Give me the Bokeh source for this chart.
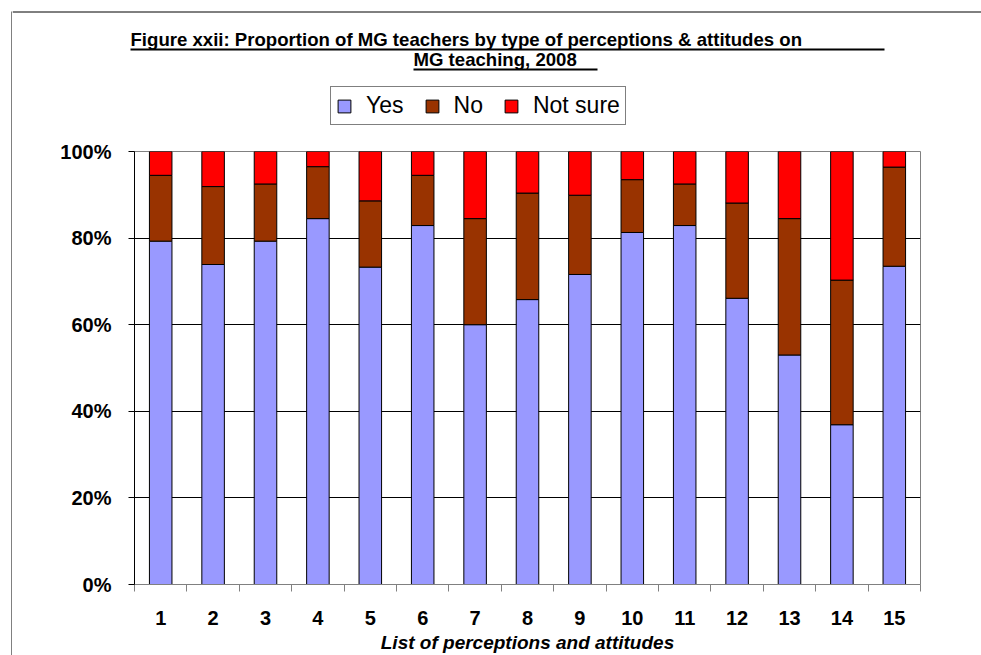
from bokeh.plotting import figure
from bokeh.layouts import row, column
from bokeh.models import (Range1d, FixedTicker, LinearAxis, Grid, Legend, LegendItem,
                          ColumnDataSource)
from bokeh.core.properties import value
from bokeh.embed import file_html
from bokeh.resources import INLINE

# ---- data ----
categories = [str(i) for i in range(1, 16)]
yes = [79.3, 73.9, 79.3, 84.5, 73.3, 82.9, 60.0, 65.8, 71.6, 81.3, 82.9, 66.1, 53.0, 36.9, 73.5]
no = [15.2, 18.0, 13.2, 12.0, 15.3, 11.6, 24.5, 24.6, 18.3, 12.2, 9.6, 22.0, 31.5, 33.4, 22.9]
not_sure = [5.5, 8.1, 7.5, 3.5, 11.4, 5.5, 15.5, 9.6, 10.1, 6.5, 7.5, 11.9, 15.5, 29.7, 3.6]
series_names = ["Yes", "No", "Not sure"]
series_colors = ["#9999FF", "#993300", "#FF0000"]
y_ticks = [0, 20, 40, 60, 80, 100]
y_tick_labels = ["0%", "20%", "40%", "60%", "80%", "100%"]
title_line1 = "Figure xxii: Proportion of MG teachers by type of perceptions & attitudes on"
title_line2 = "MG teaching, 2008"
x_title = "List of perceptions and attitudes"

FONT = "Liberation Sans"
W, H = 981, 655
STRIP = 12        # left strip holding the outer frame line
TOP = 131         # height of the title/legend band
PLOT_TOP = 151    # canvas y of the 100% line

xs = list(range(1, len(categories) + 1))
src = ColumnDataSource(dict(x=xs, yes=yes, no=no, not_sure=not_sure))

# ---------------- left strip: outer frame left edge ----------------
s = figure(width=STRIP, height=H, x_range=Range1d(0, STRIP), y_range=Range1d(H, 0),
           x_axis_type=None, y_axis_type=None, toolbar_location=None, output_backend="svg",
           min_border=0)
s.frame_align = False
s.outline_line_color = None
s.grid.visible = False
s.segment(x0=[11.5], y0=[11], x1=[11.5], y1=[H], line_color="black", line_width=1)

# ---------------- top band: title + legend ----------------
t = figure(width=W - STRIP, height=TOP, x_range=Range1d(STRIP, W), y_range=Range1d(TOP, 0),
           x_axis_type=None, y_axis_type=None, toolbar_location=None, output_backend="svg",
           min_border=0)
t.frame_align = False
t.outline_line_color = None
t.grid.visible = False
# outer frame top edge
t.segment(x0=[STRIP], y0=[11.5], x1=[W], y1=[11.5], line_color="black", line_width=1)
# title lines, underlined
t.text(x=[130], y=[39], text=[title_line1], text_font=value(FONT), text_font_style="bold",
       text_font_size="18.6px", text_baseline="middle", text_align="left", text_color="black")
t.text(x=[413], y=[59], text=[title_line2], text_font=value(FONT), text_font_style="bold",
       text_font_size="18.6px", text_baseline="middle", text_align="left", text_color="black")
t.segment(x0=[130, 413], y0=[49, 69], x1=[884, 597], y1=[49, 69], line_color="black", line_width=2)

# legend keys: hidden copies of the stacked bars, used only for the legend swatches
swatches = t.vbar_stack(["yes", "no", "not_sure"], x="x", width=0.43, source=src,
                        fill_color=series_colors, line_color="black", line_width=1,
                        visible=False)
legend = Legend(items=[LegendItem(label=n, renderers=[r]) for n, r in zip(series_names, swatches)],
                orientation="horizontal", location=(330 - STRIP, TOP - 125))
legend.label_text_font = FONT
legend.label_text_font_size = "23px"
legend.label_text_color = "black"
legend.glyph_width = 16
legend.glyph_height = 16
legend.label_standoff = 14
legend.spacing = 20
legend.padding = 5
legend.margin = 0
legend.border_line_color = "black"
legend.border_line_width = 1
legend.background_fill_color = "white"
legend.background_fill_alpha = 1
t.add_layout(legend)

# ---------------- main chart ----------------
p = figure(width=W - STRIP, height=H - TOP, x_range=Range1d(0.5, len(categories) + 0.5),
           y_range=Range1d(0, 100), x_axis_type=None, y_axis_type=None,
           toolbar_location=None, output_backend="svg",
           min_border_left=134 - STRIP, min_border_right=61, min_border_top=PLOT_TOP - TOP,
           min_border_bottom=70)
p.frame_align = False
p.outline_line_color = "#808080"
p.outline_line_width = 1
p.background_fill_color = "white"
p.border_fill_color = "white"

p.add_layout(Grid(dimension=1, ticker=FixedTicker(ticks=y_ticks), grid_line_color="black",
                  grid_line_width=1))

p.vbar_stack(["yes", "no", "not_sure"], x="x", width=0.43, source=src,
             fill_color=series_colors, line_color="black", line_width=1)

yaxis = LinearAxis(ticker=FixedTicker(ticks=y_ticks),
                   major_label_overrides={t_: l for t_, l in zip(y_ticks, y_tick_labels)})
yaxis.axis_line_color = "black"
yaxis.major_tick_line_color = "black"
yaxis.major_tick_out = 6
yaxis.major_tick_in = 0
yaxis.minor_tick_line_color = None
yaxis.major_label_standoff = 17
yaxis.major_label_text_font = FONT
yaxis.major_label_text_font_style = "bold"
yaxis.major_label_text_font_size = "20px"
yaxis.major_label_text_color = "black"
p.add_layout(yaxis, "left")

minor = [x - 0.5 for x in xs] + [xs[-1] + 0.5]
xaxis = LinearAxis(ticker=FixedTicker(ticks=xs, minor_ticks=minor),
                   major_label_overrides={x: c for x, c in zip(xs, categories)})
xaxis.axis_line_color = "#808080"
xaxis.major_tick_line_color = None
xaxis.major_tick_out = 0
xaxis.major_tick_in = 0
xaxis.minor_tick_line_color = "#808080"
xaxis.minor_tick_out = 7
xaxis.minor_tick_in = 0
xaxis.major_label_standoff = 19
xaxis.major_label_text_font = FONT
xaxis.major_label_text_font_style = "bold"
xaxis.major_label_text_font_size = "20px"
xaxis.major_label_text_color = "black"
xaxis.axis_label = x_title
xaxis.axis_label_standoff = 4
xaxis.axis_label_text_font = FONT
xaxis.axis_label_text_font_style = "bold italic"
xaxis.axis_label_text_font_size = "19px"
xaxis.axis_label_text_color = "black"
p.add_layout(xaxis, "below")

layout = row(s, column(t, p, spacing=0), spacing=0)
open("out.html", "w").write(file_html(layout, INLINE))
